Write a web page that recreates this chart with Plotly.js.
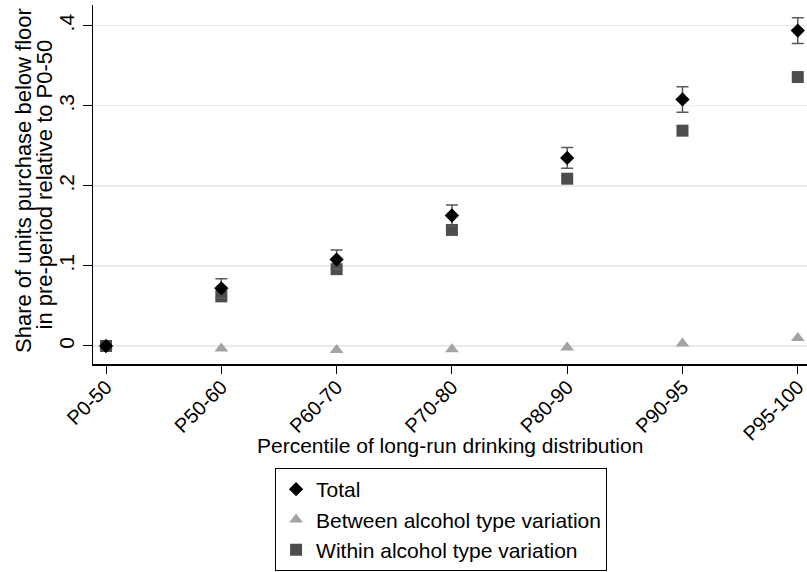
<!DOCTYPE html>
<html><head><meta charset="utf-8">
<script src="https://cdn.plot.ly/plotly-3.0.1.min.js"></script>
<style>html,body{margin:0;padding:0;background:#fff}#chart{width:807px;height:572px}</style>
</head><body><div id="chart"></div>
<script>
var categories = ["P0-50","P50-60","P60-70","P70-80","P80-90","P90-95","P95-100"];
var totalVals = [0, 0.072, 0.108, 0.163, 0.235, 0.308, 0.394];
var totalErr = [0, 0.012, 0.012, 0.013, 0.013, 0.016, 0.016];
var betweenVals = [0, -0.003, -0.005, -0.004, -0.002, 0.003, 0.010];
var withinVals = [0, 0.062, 0.096, 0.145, 0.209, 0.269, 0.336];
var yTickVals = [0, 0.1, 0.2, 0.3, 0.4];
var yTickText = ["0", ".1", ".2", ".3", ".4"];
var xTitle = "Percentile of long-run drinking distribution";
var yTitleLines = ["Share of units purchase below floor", "in pre-period relative to P0-50"];

var idx = categories.map(function(_, i){ return i; });
var font = "Arial, 'Liberation Sans', sans-serif";

var between = {x: idx, y: betweenVals, type: "scatter", mode: "markers",
  name: "Between alcohol type variation", legendrank: 2,
  marker: {symbol: "triangle-up", size: 12, color: "#a3a3a3"}};
var within = {x: idx, y: withinVals, type: "scatter", mode: "markers",
  name: "Within alcohol type variation", legendrank: 3,
  marker: {symbol: "square", size: 12, color: "#4d4d4d"}};
var total = {x: idx, y: totalVals, type: "scatter", mode: "markers",
  name: "Total", legendrank: 1,
  marker: {symbol: "diamond", size: 11, color: "#000000"},
  error_y: {type: "data", array: totalErr, visible: true, color: "#5a5a5a", thickness: 1.5, width: 6}};

var layout = {
  width: 807, height: 572,
  margin: {l: 93, r: 0, t: 5, b: 208, autoexpand: false},
  paper_bgcolor: "#ffffff", plot_bgcolor: "#ffffff",
  font: {family: font, size: 21, color: "#000000"},
  showlegend: true,
  legend: {x: 0.255, y: -0.2897, xanchor: "left", yanchor: "top",
           bordercolor: "#000000", borderwidth: 1, font: {size: 21},
           traceorder: "normal", itemwidth: 30, tracegroupgap: 0},
  xaxis: {range: [-0.113, 6.08], tickvals: idx, ticktext: categories, tickangle: -45,
          showgrid: false, zeroline: false, showline: true, linecolor: "#000000", linewidth: 1.5,
          ticks: "outside", ticklen: 8, tickcolor: "#000000", tickfont: {size: 20},
          ticklabeloverflow: "allow", ticklabelstandoff: -6},
  yaxis: {range: [-0.0225, 0.426], tickvals: yTickVals, ticktext: yTickText, tickangle: -90,
          showgrid: true, gridcolor: "#eaeaea", gridwidth: 1.2, zeroline: false,
          showline: true, linecolor: "#000000", linewidth: 1.5,
          ticks: "outside", ticklen: 9, tickcolor: "#000000", tickfont: {size: 21}},
  annotations: [
    {text: xTitle, xref: "paper", yref: "paper", x: 0.5, y: (364 - 445) / 359,
     xanchor: "center", yanchor: "middle", showarrow: false, font: {size: 21}},
    {text: yTitleLines[0], xref: "paper", yref: "paper", x: 0, y: 0.5097, xshift: -70,
     xanchor: "center", yanchor: "middle", textangle: -90, showarrow: false, font: {size: 22}},
    {text: yTitleLines[1], xref: "paper", yref: "paper", x: 0, y: 0.4986, xshift: -48.5,
     xanchor: "center", yanchor: "middle", textangle: -90, showarrow: false, font: {size: 22}}
  ]
};
Plotly.newPlot("chart", [between, within, total], layout, {staticPlot: true});
</script></body></html>
